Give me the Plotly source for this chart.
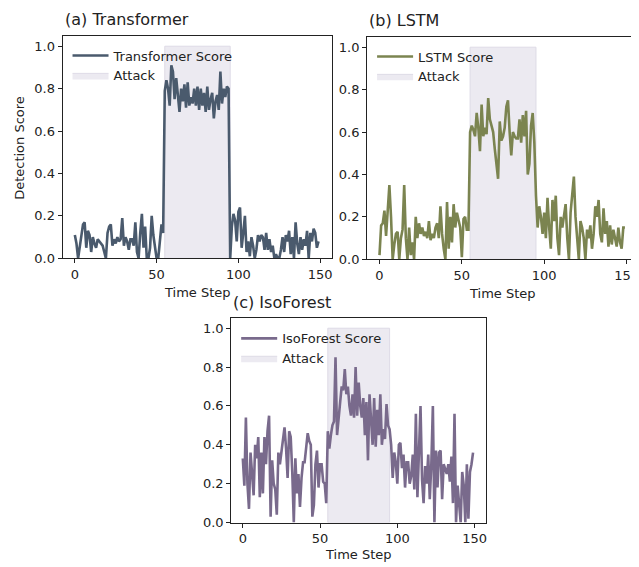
import plotly.graph_objects as go

time_steps = list(range(150))
attack_start = 55
attack_end = 95

transformer_scores = [
    0.11, 0.07, 0.00, 0.06, 0.12, 0.16, 0.17, 0.05, 0.13, 0.11,
    0.03, 0.10, 0.07, 0.05, 0.09, 0.08, 0.07, 0.06, 0.03, 0.00,
    0.12, 0.15, 0.16, 0.06, 0.09, 0.07, 0.10, 0.08, 0.09, 0.19,
    0.06, 0.10, 0.08, 0.04, 0.09, 0.09, 0.06, 0.17, 0.03, 0.00,
    0.12, 0.21, 0.05, 0.15, 0.00, 0.00, 0.05, 0.20, 0.11, 0.04,
    0.00, 0.00, 0.08, 0.16, 0.12,
    0.79, 0.84, 0.80, 0.72, 0.91, 0.88, 0.75, 0.85, 0.78, 0.69,
    0.80, 0.74, 0.82, 0.71, 0.83, 0.72, 0.76, 0.73, 0.80, 0.72,
    0.81, 0.70, 0.80, 0.72, 0.78, 0.69, 0.81, 0.70, 0.75, 0.78,
    0.66, 0.74, 0.77, 0.70, 0.88, 0.73, 0.80, 0.76, 0.81, 0.80,
    0.00, 0.15, 0.21, 0.18, 0.08, 0.22, 0.24, 0.05, 0.12, 0.20,
    0.03, 0.08, 0.01, 0.10, 0.06, 0.00, 0.04, 0.11, 0.08, 0.11,
    0.10, 0.04, 0.12, 0.04, 0.09, 0.03, 0.06, 0.00, 0.02, 0.00,
    0.00, 0.04, 0.10, 0.03, 0.11, 0.08, 0.13, 0.02, 0.10, 0.00,
    0.17, 0.07, 0.02, 0.10, 0.04, 0.09, 0.06, 0.13, 0.00, 0.12,
    0.08, 0.14, 0.12, 0.05, 0.08,
]

lstm_scores = [
    0.02, 0.16, 0.17, 0.23, 0.11, 0.22, 0.35, 0.20, 0.00, 0.07,
    0.12, 0.13, 0.00, 0.10, 0.14, 0.35, 0.10, 0.00, 0.15, 0.02,
    0.08, 0.00, 0.20, 0.10, 0.17, 0.12, 0.15, 0.11, 0.13, 0.10,
    0.18, 0.09, 0.12, 0.10, 0.15, 0.17, 0.10, 0.25, 0.12, 0.05,
    0.00, 0.27, 0.05, 0.20, 0.08, 0.26, 0.15, 0.22, 0.18, 0.15,
    0.01, 0.19, 0.20, 0.14, 0.14,
    0.60, 0.63, 0.61, 0.58, 0.69, 0.62, 0.51, 0.73, 0.58, 0.62,
    0.59, 0.76, 0.66, 0.63, 0.60, 0.52, 0.45, 0.38, 0.65, 0.56,
    0.58, 0.62, 0.72, 0.75, 0.60, 0.49, 0.60, 0.58, 0.57, 0.57,
    0.66, 0.55, 0.68, 0.58, 0.70, 0.40, 0.45, 0.63, 0.69, 0.55,
    0.30, 0.15, 0.25, 0.20, 0.12, 0.22, 0.10, 0.29, 0.15, 0.05,
    0.28, 0.18, 0.30, 0.10, 0.02, 0.20, 0.15, 0.22, 0.26, 0.10,
    0.00, 0.22, 0.30, 0.39, 0.20, 0.08, 0.00, 0.18, 0.15, 0.10,
    0.00, 0.14, 0.10, 0.16, 0.05, 0.12, 0.25, 0.20, 0.28, 0.12,
    0.08, 0.24, 0.12, 0.18, 0.06, 0.16, 0.07, 0.14, 0.10, 0.06,
    0.15, 0.08, 0.05, 0.15, 0.15,
]

isoforest_scores = [
    0.33, 0.19, 0.54, 0.20, 0.07, 0.36, 0.25, 0.14, 0.40, 0.33,
    0.44, 0.13, 0.36, 0.15, 0.44, 0.30, 0.47, 0.55, 0.03, 0.32,
    0.20, 0.17, 0.04, 0.36, 0.30, 0.36, 0.41, 0.49, 0.38, 0.23,
    0.47, 0.44, 0.26, 0.00, 0.33, 0.15, 0.25, 0.08, 0.23, 0.31,
    0.31, 0.40, 0.46, 0.42, 0.40, 0.03, 0.09, 0.30, 0.37, 0.18,
    0.30, 0.30, 0.21, 0.20, 0.10,
    0.47, 0.38, 0.45, 0.50, 0.52, 0.85, 0.45, 0.55, 0.62, 0.70,
    0.68, 0.79, 0.66, 0.70, 0.60, 0.55, 0.66, 0.54, 0.80, 0.55,
    0.72, 0.60, 0.54, 0.64, 0.45, 0.62, 0.32, 0.66, 0.55, 0.40,
    0.64, 0.39, 0.58, 0.45, 0.66, 0.40, 0.48, 0.43, 0.61, 0.50,
    0.48, 0.40, 0.23, 0.36, 0.31, 0.20, 0.40, 0.41, 0.28, 0.35,
    0.18, 0.31, 0.31, 0.20, 0.24,
    0.35, 0.17, 0.56, 0.13, 0.40, 0.60, 0.22, 0.10, 0.29, 0.20,
    0.35, 0.12, 0.30, 0.60, 0.00, 0.37, 0.18, 0.36, 0.37, 0.12,
    0.30, 0.27, 0.25, 0.30, 0.21, 0.34, 0.10, 0.56, 0.00, 0.19,
    0.11, 0.00, 0.26, 0.19, 0.00, 0.30, 0.02, 0.26, 0.30, 0.36,
]

panels = [
    ("(a) Transformer", "Transformer Score", transformer_scores, "#4A5A6D"),
    ("(b) LSTM", "LSTM Score", lstm_scores, "#7B8450"),
    ("(c) IsoForest", "IsoForest Score", isoforest_scores, "#796A8C"),
]

# The page body has the browser's default 8px margin: the figure starts at
# (8, 8) in the window and is sized to reach the window's right/bottom edges.
OFF = 8
W, H = 639 - OFF, 567 - OFF
FONT = "DejaVu Sans"


def px(x):
    return (x - OFF) / W


def py(y):
    return 1 - (y - OFF) / H


# window-pixel boxes: left, right, top, bottom
boxes = [
    (63, 335, 36, 262),
    (370, 639, 37, 263),
    (233, 490, 323, 530),
]
xranges = [[-7.5, 157.5], [-7.5, 154.5], [-7.5, 157.5]]
xtitle_x = [199, 506, 361]
xtitle_gap = [35, 35, 32]

fig = go.Figure()
annotations = []

for i, ((title, name, scores, color), (l, r, t, b), xr) in enumerate(zip(panels, boxes, xranges)):
    idx = "" if i == 0 else str(i + 1)
    xa, ya = "x" + idx, "y" + idx
    leg = "legend" + idx
    fig.add_trace(go.Scatter(
        x=[attack_start, attack_end, attack_end, attack_start, attack_start],
        y=[0, 0, 1, 1, 0], fill="toself", mode="lines",
        fillcolor="#ECEAF1", line=dict(color="#DEDBE6", width=1),
        name="Attack", xaxis=xa, yaxis=ya, legend=leg, legendrank=2,
        hoverinfo="skip"))
    fig.add_trace(go.Scatter(
        x=time_steps, y=scores, mode="lines", name=name,
        line=dict(color=color, width=2.6), xaxis=xa, yaxis=ya,
        legend=leg, legendrank=1))

    axis_common = dict(showline=True, linecolor="#222", linewidth=1,
                       ticks="outside", ticklen=4, tickcolor="#222",
                       showgrid=False, zeroline=False,
                       ticklabeloverflow="allow",
                       tickfont=dict(family=FONT, size=13, color="#222"))
    fig.layout["xaxis" + idx] = dict(
        domain=[px(l), min(px(r), 1.0)], anchor=ya, range=xr,
        tickvals=[0, 50, 100, 150], mirror=True, **axis_common)
    fig.layout["yaxis" + idx] = dict(
        domain=[py(b), py(t)], anchor=xa, range=[0, 1.05],
        tickvals=[0, 0.2, 0.4, 0.6, 0.8, 1.0], tickformat=".1f",
        mirror=(i != 1), **axis_common)
    fig.layout[leg] = dict(
        x=px(l + 5), y=py(t + 5), xanchor="left", yanchor="top",
        bgcolor="rgba(0,0,0,0)", font=dict(family=FONT, size=13, color="#222"),
        tracegroupgap=0, itemwidth=36)

    annotations.append(dict(text=title, x=px(l), y=py(t - 16),
                            xref="paper", yref="paper", xanchor="left",
                            yanchor="middle", showarrow=False,
                            font=dict(family=FONT, size=16, color="#222")))
    annotations.append(dict(text="Time Step", x=px(xtitle_x[i]),
                            y=py(b + xtitle_gap[i]), xref="paper", yref="paper",
                            xanchor="center", yanchor="middle", showarrow=False,
                            font=dict(family=FONT, size=13, color="#222")))

annotations.append(dict(text="Detection Score", x=px(20), y=py(150),
                        xref="paper", yref="paper", textangle=-90,
                        xanchor="center", yanchor="middle", showarrow=False,
                        font=dict(family=FONT, size=13, color="#222")))

fig.update_layout(width=W, height=H, margin=dict(l=0, r=0, t=0, b=0),
                  paper_bgcolor="white", plot_bgcolor="white",
                  annotations=annotations, showlegend=True)

fig.write_html("out.html", config={"displayModeBar": False})
